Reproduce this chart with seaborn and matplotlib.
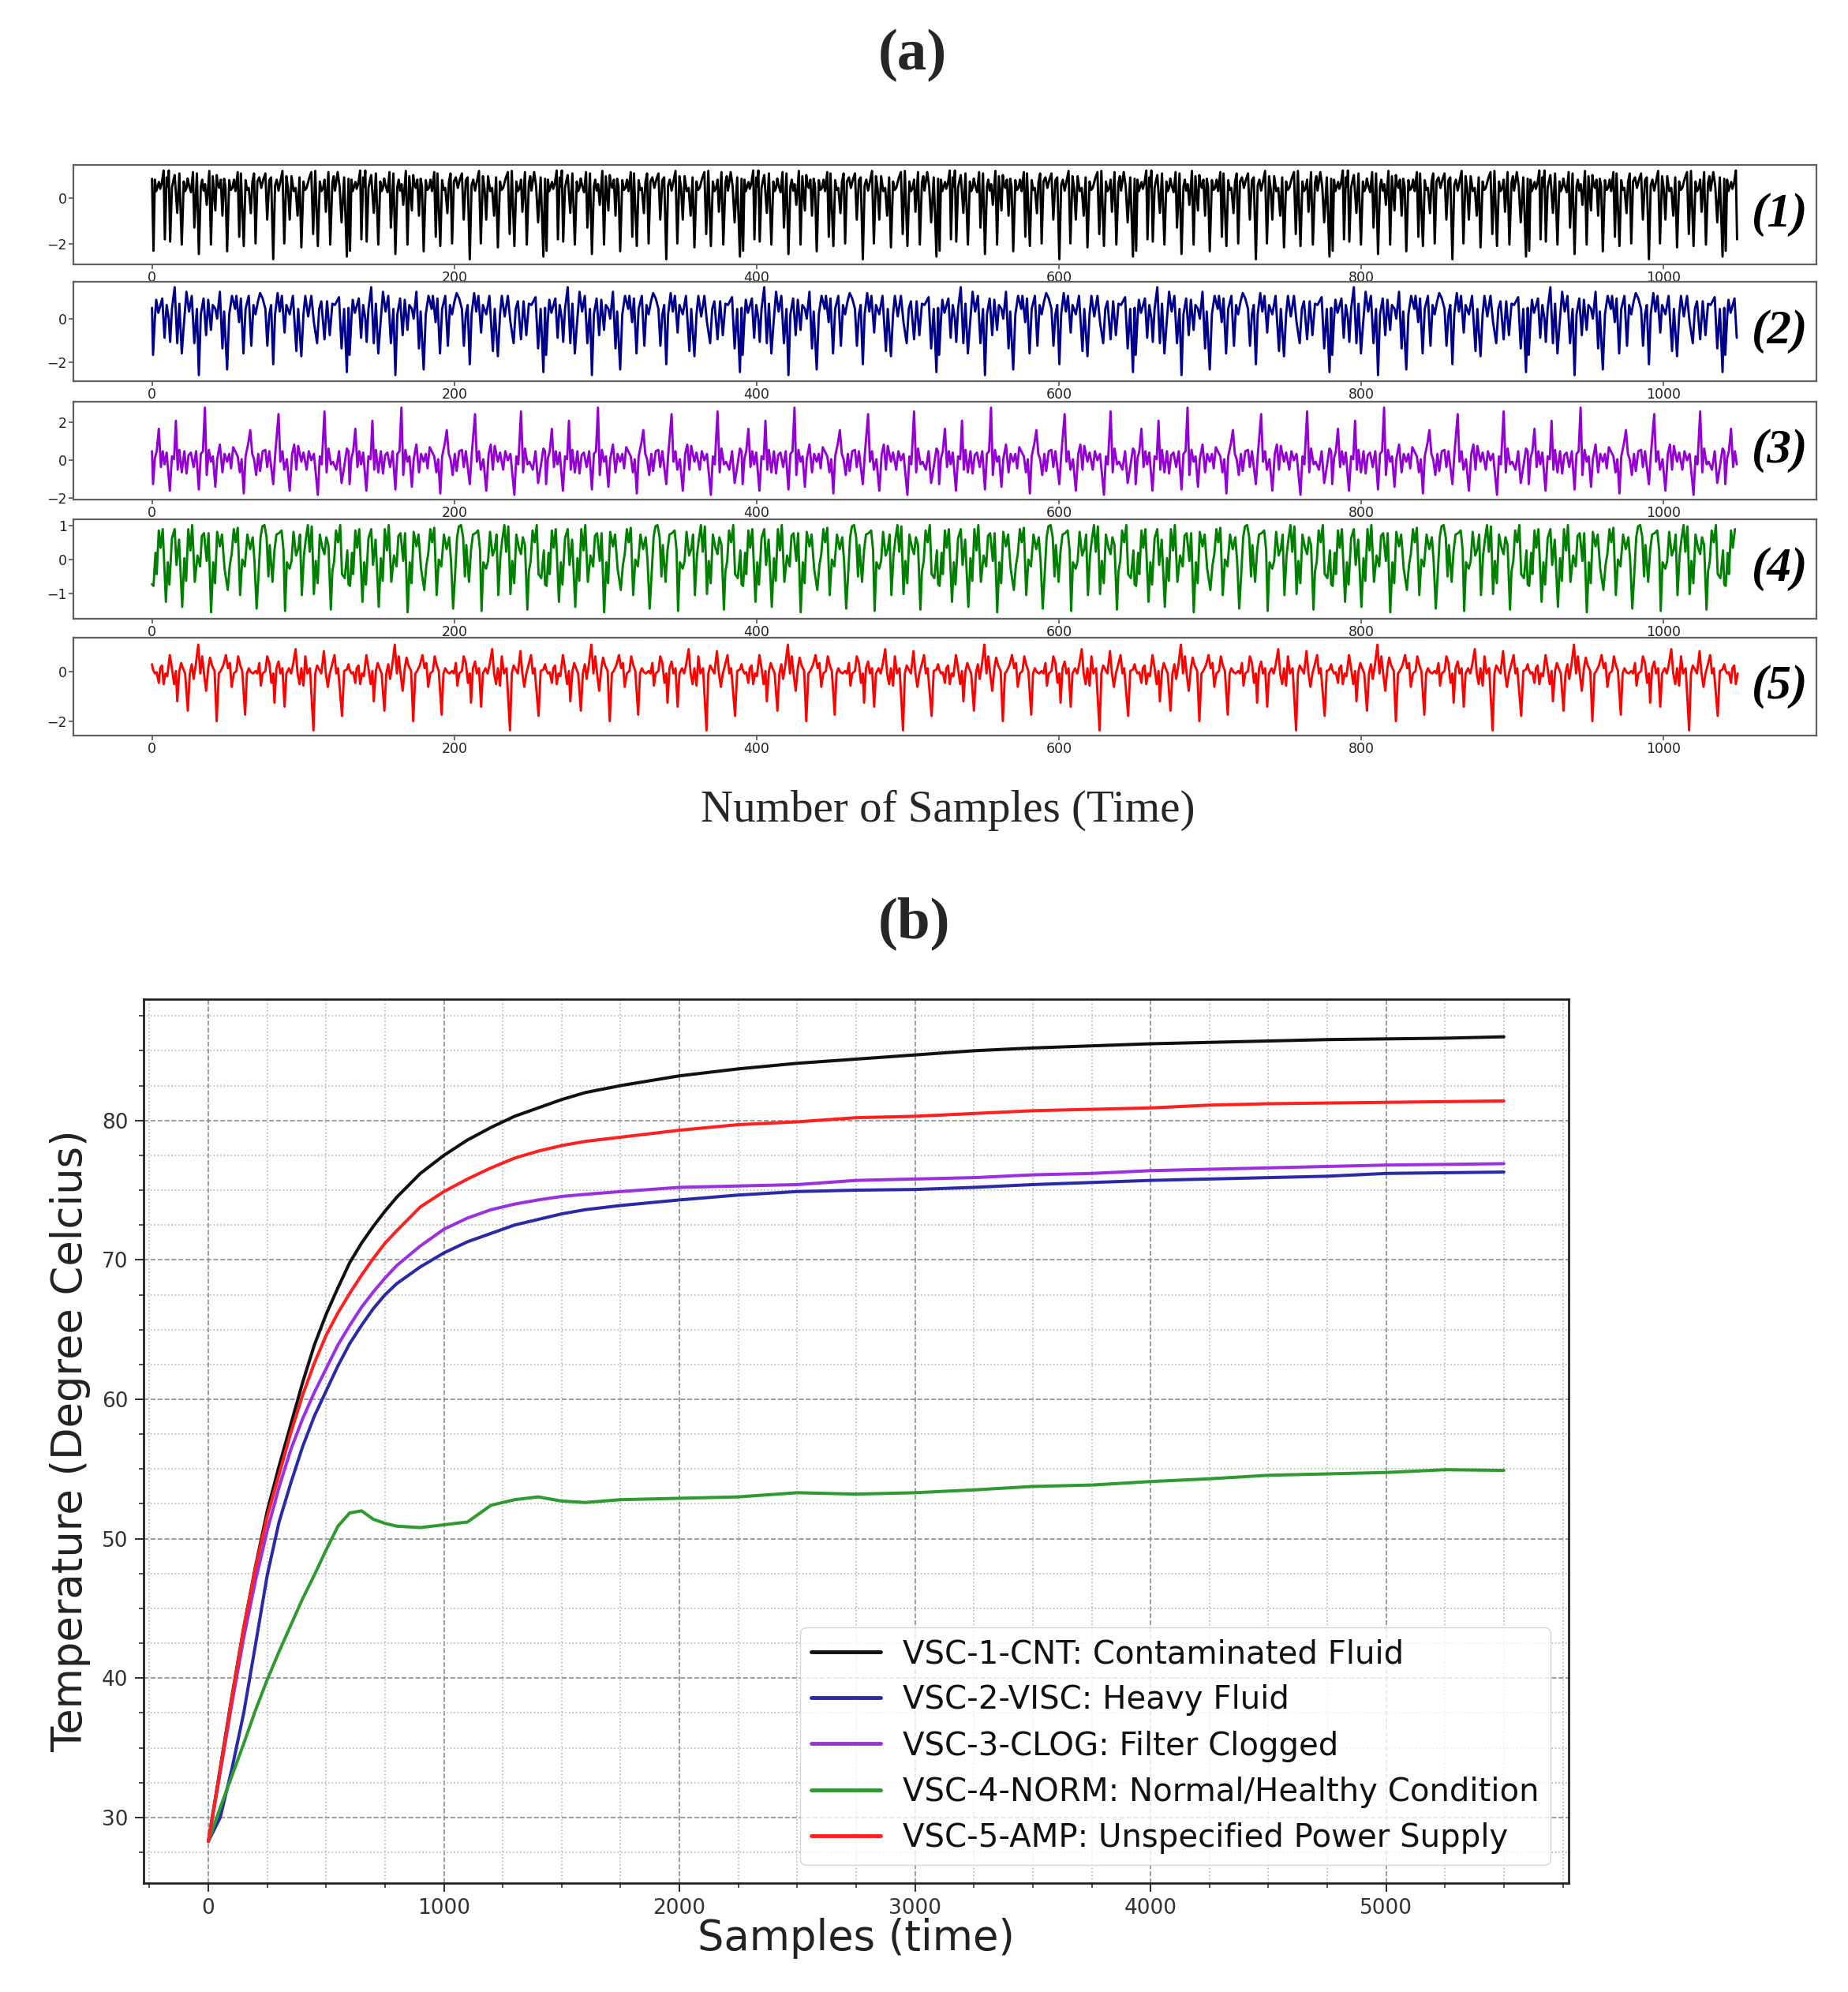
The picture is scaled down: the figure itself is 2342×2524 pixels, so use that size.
import numpy as np
import pandas as pd
import matplotlib
matplotlib.use("Agg")
import matplotlib.pyplot as plt
import seaborn as sns
from matplotlib.ticker import AutoMinorLocator

# ---------------- Panel (a): vibration signals ----------------
# One segment (sample position, amplitude); the quasi-periodic
# record repeats this segment up to the last sample.
SEG_LEN = 130
N_LAST = 1049

sig1_pos = [0.0, 1.0, 1.9, 2.8, 3.7, 4.6, 5.4, 6.5, 7.7, 8.5, 9.7, 10.4, 11.1, 12.0, 13.2, 14.1, 15.0, 16.7, 18.1, 19.7,
            21.0, 21.9, 22.8, 23.6, 24.5, 25.8, 27.1, 28.0, 29.7, 31.0, 32.3, 33.2, 34.1, 35.1, 36.2, 37.9, 39.0, 40.2,
            41.9, 42.8, 43.6, 44.5, 45.5, 46.6, 47.7, 48.6, 49.7, 51.1, 52.1, 53.2, 54.2, 55.2, 56.7, 57.7, 58.8, 60.7,
            61.9, 62.9, 64.0, 65.4, 66.4, 67.5, 68.5, 69.7, 71.0, 72.3, 73.6, 75.0, 76.2, 77.6, 78.8, 80.2, 81.4, 82.5,
            83.7, 85.0, 86.3, 87.5, 88.9, 90.0, 91.1, 92.3, 93.7, 95.0, 96.3, 97.6, 98.8, 100.2, 101.2, 102.3, 103.9,
            105.4, 106.6, 108.0, 109.7, 111.0, 112.1, 113.2, 114.1, 115.0, 116.7, 117.9, 119.3, 120.2, 121.0, 122.8,
            124.1, 125.4, 127.1, 128.9]
sig1_val = [0.84, -2.3, 0.8, 0.3, 0.5, 0.7, 0.4, 0.65, 1.2, -1.8, 0.9, 0.5, 1.2, -1.9, 0.45, 0.75, 1.0, -0.65, 1.07, -2.03,
            0.72, 0.3, 0.44, 0.85, 0.55, 0.25, 1.13, -1.29, 1.07, -2.44, 0.5, 0.8, 0.32, 0.6, -0.3, 1.18, -2.03, 0.95,
            -0.54, 1.0, 0.6, 0.44, 0.8, -0.77, 0.84, 0.5, -2.32, 0.78, 0.35, 0.44, 0.8, 0.3, 1.13, -1.69, 1.07, -2.09,
            0.78, 0.35, 0.44, -0.66, 0.7, 1.07, -1.98, 0.72, 0.9, 0.44, 0.8, 1.07, -0.94, 0.78, 0.9, -2.67, 0.55, 0.8,
            0.32, 0.75, 1.18, -1.98, 0.95, 0.4, -0.94, 0.95, 0.3, 0.44, -0.77, 0.9, -2.15, 0.72, 0.35, 0.44, 0.85,
            1.13, -1.57, 1.18, -2.09, 0.72, 0.3, 0.44, 0.8, -0.6, 1.13, -2.03, 0.67, 0.95, 0.32, 1.13,
            0.5, -1.06, 0.9, -2.55]

sig2_pos = [0.0, 0.7, 1.9, 2.8, 4.2, 5.4, 6.8, 8.3, 9.7, 11.1, 12.0, 13.2, 15.0, 16.7, 18.1, 19.7, 21.0, 22.8, 24.5, 26.3,
            28.0, 29.7, 31.0, 32.3, 34.1, 35.8, 37.2, 39.0, 40.2, 41.9, 43.1, 44.9, 46.6, 47.7, 49.7, 51.1, 52.9, 55.0,
            55.8, 57.6, 58.8, 60.5, 61.9, 64.0, 65.7, 67.1, 68.5, 70.1, 71.5, 73.2, 75.0, 76.3, 77.6, 78.8, 80.2, 81.4,
            83.1, 84.5, 85.9, 87.7, 88.9, 91.1, 93.2, 95.5, 96.7, 98.8, 100.2, 101.4, 103.3, 105.4, 107.1, 109.2, 110.6,
            112.0, 114.1, 115.8, 117.6, 119.3, 121.0, 123.7, 125.4, 127.1, 128.9]
sig2_val = [0.5, -1.67, 0.0, 0.87, 0.27, 0.57, 0.93, -0.88, 0.63, 0.0, -1.07, 0.45, 1.45, -1.13, 0.69, -1.6, -0.34, 1.24,
            0.33, 1.05, -1.13, 0.45, -2.6, 0.2, 0.93, -0.76, 0.87, -0.52, 0.63, 0.45, 0.0, 1.24, -1.37, 0.33, -2.34, 0.2,
            1.05, 0.45, 1.05, -0.16, 0.93, -1.6, 0.45, 1.05, -1.25, 0.63, 0.2, 0.8, 1.18, 0.93, 0.45, -1.25, 0.2, 0.63,
            -2.1, 0.2, 1.18, 0.33, 1.05, -0.64, 0.63, 0.2, 1.05, -1.49, 0.45, -1.73, 0.2, 1.05, 0.1, 1.05, -0.16, -1.13,
            0.45, 0.8, -0.95, 0.8, -0.76, 0.69, 0.63, 0.99, -1.37, 0.45, -2.46]

sig3_pos = [0.0, 0.7, 1.9, 3.1, 4.5, 5.9, 7.1, 8.3, 9.7, 11.8, 13.2, 14.6, 15.8, 17.0, 18.1, 19.7, 21.4, 22.8, 24.2, 25.7,
            27.5, 29.2, 31.0, 32.3, 33.7, 35.0, 36.2, 37.6, 39.0, 40.3, 41.9, 43.1, 44.9, 46.6, 48.0, 49.7, 51.1, 52.3,
            53.7, 55.0, 56.7, 58.1, 59.3, 60.7, 61.9, 63.7, 65.0, 66.3, 67.5, 68.9, 70.3, 71.5, 73.2, 75.0, 76.2, 77.6,
            80.2, 81.4, 83.7, 84.9, 86.3, 87.5, 89.2, 91.1, 92.7, 94.1, 95.5, 96.7, 98.8, 100.2, 102.3, 103.7, 105.4,
            107.1, 109.7, 111.0, 112.3, 114.1, 115.5, 116.7, 118.4, 119.7, 121.9, 123.7, 125.4, 127.1, 128.9]
sig3_val = [0.47, -1.26, 0.1, 0.47, 1.65, -0.36, 0.47, -0.22, 0.4, -1.6, 0.2, 0.05, 2.07, -0.5, 0.54, -0.64, 0.47, -0.7,
            0.26, 0.4, -0.36, 0.47, -1.54, 0.33, 0.47, 2.76, -0.78, 0.54, -0.08, 0.2, -1.4, 0.05, 0.82, -0.64, 0.33,
            -0.08, 0.33, -0.43, 0.68, 0.47, 0.2, -0.64, 0.05, -1.75, 0.2, 0.89, 1.58, 0.33, 0.05, -0.78, 0.33, -0.57,
            0.47, 0.54, -0.36, 0.47, -1.26, 0.2, 2.42, -0.08, 0.47, -0.5, 0.05, -1.6, 0.33, 0.82, -0.5, 0.75, -0.08,
            0.4, -0.5, 0.47, -0.01, 0.33, -1.82, 0.2, -0.22, 2.56, -0.64, 0.61, -0.22, -0.08, -0.5, 0.47, -1.2,
            -0.36, 0.61]

sig4_pos = [0.0, 1.0, 2.3, 3.1, 4.5, 5.7, 7.1, 9.2, 10.4, 11.5, 13.2, 15.0, 16.2, 17.9, 20.0, 21.4, 22.6, 24.0, 25.4, 26.6,
            28.3, 30.1, 31.8, 33.0, 34.4, 36.2, 37.4, 39.1, 40.5, 41.7, 43.1, 44.9, 46.3, 48.0, 50.1, 51.5, 52.7, 54.1,
            55.3, 56.7, 58.3, 59.7, 61.4, 63.1, 64.9, 66.6, 67.8, 69.2, 70.6, 71.8, 73.0, 74.4, 75.8, 77.0, 77.9, 79.7,
            81.0, 82.3, 84.0, 85.7, 87.0, 88.0, 89.2, 91.0, 92.3, 93.6, 95.3, 96.7, 97.9, 99.1, 100.5, 101.7, 103.1,
            104.3, 105.7, 107.1, 108.3, 109.6, 111.0, 112.7, 114.1, 115.3, 116.7, 118.3, 119.3, 120.5, 121.7, 123.1,
            124.5, 125.7, 127.5, 129.2]
sig4_val = [-0.73, -0.78, 0.2, -0.43, 0.86, 0.35, 0.9, -1.25, -0.08, -0.74, 0.63, 0.9, -0.16, 0.59, -1.4, 0.04, -0.63,
            0.9, 0.27, 1.02, -0.66, 0.12, -0.2, 0.7, 0.78, -0.04, 0.78, -1.56, -0.08, -0.7, 0.82, 0.39, 0.74, -0.27,
            -0.9, -0.16, 0.16, 0.9, 0.51, 0.94, -1.05, 0.0, -0.2, 0.74, 0.31, 0.66, -0.04, -1.45, -0.35, 0.66, 0.98,
            1.02, 0.66, -0.5, 0.43, -0.66, 0.27, 0.74, 0.78, 0.86, 0.27, -1.52, -0.08, -0.27, -0.04, 0.82, 0.12, 0.31,
            0.74, -1.05, 0.12, 0.59, 1.02, 0.23, 0.98, -1.02, -0.04, -0.7, 0.74, 0.35, 0.16, 0.66, 0.43, -1.48, -0.35,
            -0.04, 0.86, 0.51, 1.02, -0.43, -0.55, 0.27]

sig5_pos = [0.0, 0.7, 1.9, 3.1, 4.5, 5.4, 6.6, 7.7, 8.9, 10.1, 11.8, 13.2, 14.6, 15.8, 16.7, 18.1, 19.3, 20.5, 21.9, 23.7,
            25.0, 26.3, 27.5, 28.9, 30.6, 32.0, 33.2, 34.4, 35.8, 37.2, 38.4, 39.7, 41.4, 42.8, 44.2, 45.4, 47.1, 48.9,
            50.3, 51.5, 52.7, 54.1, 55.8, 57.0, 58.4, 59.7, 61.6, 62.8, 64.0, 65.4, 66.8, 68.5, 69.7, 71.0, 72.0, 73.2,
            75.0, 76.2, 77.6, 79.0, 80.2, 81.0, 82.3, 83.7, 84.9, 86.3, 87.7, 88.9, 90.6, 92.0, 93.2, 95.0, 96.3, 97.6,
            98.8, 100.2, 101.4, 102.8, 104.5, 106.8, 108.0, 109.2, 110.6, 112.0, 113.7, 115.0, 116.3, 117.6, 119.0,
            120.7, 121.9, 123.1, 125.7, 127.1, 128.9]
sig5_val = [0.31, 0.1, -0.06, -0.01, -0.44, 0.15, 0.26, -0.49, -0.06, -0.17, 0.68, 0.15, -0.49, 0.04, -1.18, 0.04, 0.36,
            0.15, -0.06, -1.56, -0.06, 0.31, -0.28, 0.26, 1.1, -0.06, 0.63, -0.06, -0.76, 0.15, 0.58, 0.26, 0.04, -1.98,
            -0.06, 0.04, 0.26, 0.68, 0.15, 0.36, -0.6, -0.06, 0.04, 0.63, 0.26, 0.04, -1.72, -0.06, 0.15, -0.01, -0.06,
            0.04, -0.06, 0.36, -0.55, -0.06, 0.04, 0.63, 0.36, -0.44, -0.06, -1.24, 0.15, 0.42, -0.06, 0.15, -1.4,
            -0.06, 0.15, -0.06, 0.26, 0.92, -0.06, -0.49, 0.15, -0.55, 0.63, -0.06, 0.15, -2.35, -0.06, 0.26, 0.1,
            -0.06, 0.84, -0.06, -0.6, -0.06, 0.26, 0.68, -0.06, 0.15, -1.77, 0.04, 0.1]

signal_colors = ["#000000", "#00008b", "#9400d3", "#008000", "#ff0000"]
signal_tags = ["(1)", "(2)", "(3)", "(4)", "(5)"]
signal_ylims = [(-2.89, 1.44), (-2.88, 1.70), (-2.07, 3.07), (-1.75, 1.19), (-2.56, 1.38)]
signal_yticks = [[-2, 0], [-2, 0], [-2, 0, 2], [-1, 0, 1], [-2, 0]]
signal_xticks = [0, 200, 400, 600, 800, 1000]

# ---------------- Panel (b): temperature ----------------
temp_samples = [0, 50, 100, 150, 200, 250, 300, 350, 400, 450, 500, 550, 600, 650, 700, 750, 800, 900, 1000, 1100,
                1200, 1300, 1400, 1500, 1600, 1750, 2000, 2250, 2500, 2750, 3000, 3250, 3500, 3750, 4000, 4250, 4500,
                4750, 5000, 5250, 5500]
temp_cnt = [28.3, 33.5, 38.7, 43.6, 48.0, 52.0, 55.2, 58.2, 61.2, 63.9, 66.1, 68.0, 69.8, 71.2, 72.4, 73.5, 74.5, 76.2,
            77.5, 78.6, 79.5, 80.3, 80.9, 81.5, 82.0, 82.5, 83.2, 83.7, 84.1, 84.4, 84.7, 85.0, 85.2, 85.35, 85.5, 85.6,
            85.7, 85.8, 85.85, 85.9, 86.0]
temp_visc = [28.3, 30.0, 33.5, 37.5, 42.4, 47.4, 51.2, 54.0, 56.6, 58.8, 60.6, 62.4, 64.0, 65.3, 66.5, 67.5, 68.3, 69.5,
             70.5, 71.3, 71.9, 72.5, 72.9, 73.3, 73.6, 73.9, 74.3, 74.65, 74.9, 75.0, 75.05, 75.2, 75.4, 75.55, 75.7,
             75.8, 75.9, 76.0, 76.2, 76.25, 76.3]
temp_clog = [28.3, 33.2, 38.2, 42.9, 47.0, 50.6, 53.7, 56.4, 58.6, 60.5, 62.2, 63.9, 65.3, 66.6, 67.7, 68.7, 69.6, 71.0,
             72.2, 73.0, 73.6, 74.0, 74.3, 74.55, 74.7, 74.9, 75.2, 75.3, 75.4, 75.7, 75.8, 75.9, 76.1, 76.2, 76.4,
             76.5, 76.6, 76.7, 76.8, 76.85, 76.9]
temp_norm = [28.3, 30.7, 33.0, 35.3, 37.7, 39.9, 41.9, 43.8, 45.7, 47.4, 49.2, 50.9, 51.85, 52.0, 51.4, 51.1, 50.9, 50.8,
             51.0, 51.2, 52.4, 52.8, 53.0, 52.7, 52.6, 52.8, 52.9, 53.0, 53.3, 53.2, 53.3, 53.5, 53.75, 53.85, 54.1,
             54.3, 54.55, 54.65, 54.75, 54.95, 54.9]
temp_amp = [28.3, 33.4, 38.6, 43.6, 47.9, 51.6, 54.6, 57.6, 60.3, 62.6, 64.6, 66.2, 67.6, 68.9, 70.1, 71.2, 72.1, 73.8,
            74.9, 75.8, 76.6, 77.3, 77.8, 78.2, 78.5, 78.8, 79.3, 79.7, 79.9, 80.2, 80.3, 80.5, 80.7, 80.8, 80.9, 81.1,
            81.2, 81.25, 81.3, 81.35, 81.4]
temp_labels = ["VSC-1-CNT: Contaminated Fluid", "VSC-2-VISC: Heavy Fluid", "VSC-3-CLOG: Filter Clogged",
               "VSC-4-NORM: Normal/Healthy Condition", "VSC-5-AMP: Unspecified Power Supply"]
temp_colors = ["#111111", "#2a2aa8", "#9a30e0", "#2f9a2f", "#ff2020"]
temp_xticks = [0, 1000, 2000, 3000, 4000, 5000]
temp_yticks = [30, 40, 50, 60, 70, 80]


def tile_segment(pos, val):
    xs, ys = [], []
    k = 0
    while k * SEG_LEN <= N_LAST:
        for p, v in zip(pos, val):
            x = p + k * SEG_LEN
            if x <= N_LAST:
                xs.append(x)
                ys.append(v)
        k += 1
    return xs, ys


sns.set_theme(style="white")
plt.rcParams["font.family"] = ["DejaVu Sans"]

W, H = 2342, 2524
fig = plt.figure(figsize=(W / 100, H / 100), dpi=100)
fig.patch.set_facecolor("white")


def fx(px):
    return px / W


def fy(py):
    return 1 - py / H


serif = ["Liberation Serif", "DejaVu Serif"]

fig.text(fx(1156), fy(70), "(a)", ha="center", va="center", fontsize=54, fontweight="bold", family=serif)
fig.text(fx(1201), fy(1027), "Number of Samples (Time)", ha="center", va="center", fontsize=41, family=serif)
fig.text(fx(1159), fy(1170), "(b)", ha="center", va="center", fontsize=54, fontweight="bold", family=serif)

signals = [(sig1_pos, sig1_val), (sig2_pos, sig2_val), (sig3_pos, sig3_val), (sig4_pos, sig4_val), (sig5_pos, sig5_val)]
boxes = [(209, 335), (357, 483), (509, 633), (658, 784), (808, 932)]
for i, ((pos, val), (top, bot)) in enumerate(zip(signals, boxes)):
    ax = fig.add_axes([fx(93), fy(bot), fx(2302) - fx(93), (bot - top) / H])
    xs, ys = tile_segment(pos, val)
    sns.lineplot(x=xs, y=ys, ax=ax, color=signal_colors[i], linewidth=2.1, estimator=None, sort=False)
    ax.set_xlim(-52, 1101)
    ax.set_ylim(*signal_ylims[i])
    ax.set_xticks(signal_xticks)
    ax.set_yticks(signal_yticks[i])
    ax.set_xlabel("")
    ax.set_ylabel("")
    ax.tick_params(axis="both", labelsize=12.5, length=4, width=1.2, color="#555555", labelcolor="#222222",
                   pad=2, bottom=True, left=True, direction="out")
    for sp in ax.spines.values():
        sp.set_color("#606060")
        sp.set_linewidth(1.6)
    ax.set_facecolor("white")
    ax.text(0.979, 0.5, signal_tags[i], transform=ax.transAxes, ha="center", va="center", fontsize=44,
            fontstyle="italic", fontweight="bold", family=serif, color="black")

# ---------------- bottom chart ----------------
axb = fig.add_axes([fx(182), fy(2386), fx(1988) - fx(182), (2386 - 1266) / H])
temp_series = [temp_cnt, temp_visc, temp_clog, temp_norm, temp_amp]
df = pd.concat([pd.DataFrame({"Samples": temp_samples, "Temperature": s, "Condition": lab})
                for s, lab in zip(temp_series, temp_labels)], ignore_index=True)
sns.lineplot(data=df, x="Samples", y="Temperature", hue="Condition", hue_order=temp_labels,
             palette=dict(zip(temp_labels, temp_colors)), linewidth=2.9, estimator=None, sort=False, ax=axb)
axb.set_xlim(-275, 5775)
axb.set_ylim(25.3, 88.7)
axb.set_xticks(temp_xticks)
axb.set_yticks(temp_yticks)
axb.xaxis.set_minor_locator(AutoMinorLocator(4))
axb.yaxis.set_minor_locator(AutoMinorLocator(4))
axb.set_axisbelow(True)
axb.grid(which="major", linestyle="--", color="0.55", linewidth=1.2)
axb.grid(which="minor", linestyle=":", color="0.72", linewidth=1.2)
axb.tick_params(which="major", axis="both", length=8, width=1.5, direction="out", labelsize=19,
                color="#333333", labelcolor="#333333", bottom=True, left=True, pad=6)
axb.tick_params(which="minor", axis="both", length=4, width=1.2, direction="out", color="#333333",
                bottom=True, left=True)
for sp in axb.spines.values():
    sp.set_color("#222222")
    sp.set_linewidth(2.0)
axb.set_xlabel("Samples (time)", fontsize=38, color="#222222")
axb.set_ylabel("Temperature (Degree Celcius)", fontsize=38, color="#222222")
axb.xaxis.set_label_coords(0.5, -0.039)
axb.yaxis.set_label_coords(-0.037, 0.5)

handles, labs = axb.get_legend_handles_labels()
leg = axb.legend(handles, labs, loc="lower right", bbox_to_anchor=(0.9873, 0.0206), borderaxespad=0,
                 fontsize=29, labelspacing=0.45, handlelength=2.2, handletextpad=0.7, borderpad=0.35,
                 frameon=True, fancybox=True, framealpha=0.8, edgecolor="0.8", title=None)
for ln in leg.get_lines():
    ln.set_linewidth(3.5)
for t in leg.get_texts():
    t.set_color("#111111")

fig.savefig("out.png", dpi=100, facecolor="white")
